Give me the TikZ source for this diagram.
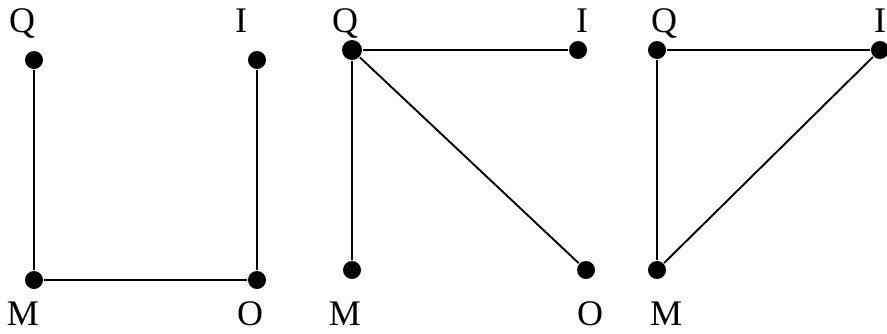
\documentclass[tikz,border=0pt]{standalone}
\usepackage{fontspec}
\setmainfont{Liberation Serif}
\usepackage{tikz}
\usetikzlibrary{positioning}

\begin{document}
\begin{tikzpicture}[x=1pt,y=-1pt,line width=1.9pt]
  \tikzstyle{vertex}=[circle,fill=black,inner sep=0pt,minimum size=18pt]
  \tikzstyle{lbl}=[anchor=base,inner sep=0pt,font=\fontsize{36}{40}\selectfont]
  \useasboundingbox (0,0) rectangle (887,333);
  % first graph
  \node[vertex] (q1) at (34,60) {};
  \node[vertex] (i1) at (257,60) {};
  \node[vertex] (m1) at (34,280) {};
  \node[vertex] (o1) at (257,280) {};
  \node[lbl] (lq1) at (22,32) {Q};
  \node[lbl] (li1) at (241,32) {I};
  \node[lbl] (lm1) at (23,325) {M};
  \node[lbl] (lo1) at (250,325) {O};
  \draw (q1)--(m1);
  \draw (i1)--(o1);
  \draw (m1)--(o1);
  % second graph
  \node[vertex,minimum size=20pt] (q2) at (352,50) {};
  \node[vertex] (i2) at (578,50) {};
  \node[vertex] (m2) at (352,270) {};
  \node[vertex] (o2) at (586,270) {};
  \node[lbl] (lq2) at (345,32) {Q};
  \node[lbl] (li2) at (582,32) {I};
  \node[lbl] (lm2) at (345,325) {M};
  \node[lbl] (lo2) at (590,325) {O};
  \draw (q2)--(i2);
  \draw (q2)--(m2);
  \draw (q2)--(o2);
  % third graph
  \node[vertex] (q3) at (657,50) {};
  \node[vertex] (i3) at (880,50) {};
  \node[vertex] (m3) at (657,270) {};
  \node[lbl] (lq3) at (664,32) {Q};
  \node[lbl] (li3) at (880,32) {I};
  \node[lbl] (lm3) at (666,325) {M};
  \draw (q3)--(i3);
  \draw (q3)--(m3);
  \draw (m3)--(i3);
\end{tikzpicture}
\end{document}
